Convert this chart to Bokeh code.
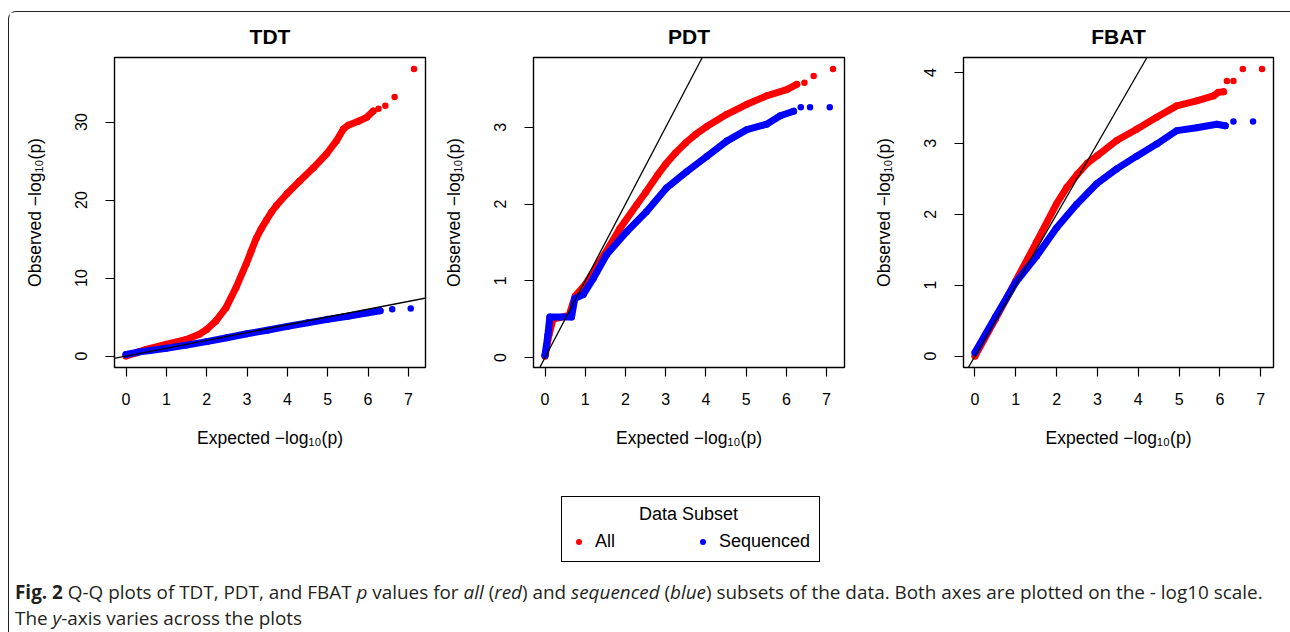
from bokeh.plotting import figure
from bokeh.models import Range1d, FixedTicker, Slope, Legend, LegendItem, Div, Label
from bokeh.layouts import row, column
from bokeh.embed import file_html
from bokeh.resources import INLINE

# ---------------- data ----------------
X_TICKS = [0, 1, 2, 3, 4, 5, 6, 7]

TITLES = ["TDT", "PDT", "FBAT"]
Y_TICKS_TDT = [0, 10, 20, 30]
Y_TICKS_PDT = [0, 1, 2, 3]
Y_TICKS_FBAT = [0, 1, 2, 3, 4]

# TDT - All (red): dense body and sparse tail
tdt_all_x = [0.0, 0.25, 0.5, 0.99, 1.48, 1.82, 2.0, 2.23, 2.48, 2.73, 2.98, 3.1, 3.23, 3.35,
             3.48, 3.6, 3.73, 3.99, 4.3, 4.64, 4.97, 5.22, 5.39, 5.51, 5.76, 5.97, 6.13]
tdt_all_y = [0.0, 0.4, 0.85, 1.5, 2.1, 2.8, 3.4, 4.5, 6.2, 8.8, 11.8, 13.4, 15.1, 16.3,
             17.4, 18.4, 19.3, 20.8, 22.4, 24.1, 25.9, 27.6, 29.1, 29.6, 30.1, 30.6, 31.4]
tdt_all_tail_x = [6.26, 6.43, 6.66, 7.14]
tdt_all_tail_y = [31.7, 32.1, 33.2, 36.8]
# TDT - Sequenced (blue)
tdt_seq_x = [0.0, 0.3, 0.6, 1.0, 1.5, 2.0, 2.5, 3.0, 3.5, 4.0, 4.5, 5.0, 5.5, 6.0, 6.3]
tdt_seq_y = [0.2, 0.5, 0.7, 1.0, 1.4, 1.85, 2.35, 2.85, 3.3, 3.8, 4.25, 4.7, 5.1, 5.55, 5.8]
tdt_seq_tail_x = [6.6, 7.06]
tdt_seq_tail_y = [6.0, 6.1]

# PDT - All (red)
pdt_all_x = [0.0, 0.1, 0.2, 0.6, 0.75, 1.0, 1.3, 1.6, 1.86, 2.28, 2.5, 2.8, 3.0, 3.25, 3.5,
             3.75, 4.02, 4.52, 5.02, 5.51, 6.01, 6.26]
pdt_all_y = [0.02, 0.3, 0.5, 0.55, 0.8, 0.95, 1.2, 1.45, 1.68, 1.99, 2.15, 2.38, 2.52, 2.67,
             2.80, 2.91, 3.01, 3.17, 3.30, 3.41, 3.49, 3.56]
pdt_all_tail_x = [6.45, 6.68, 7.16]
pdt_all_tail_y = [3.58, 3.67, 3.76]
# PDT - Sequenced (blue)
pdt_seq_x = [0.0, 0.07, 0.12, 0.66, 0.74, 0.95, 1.2, 1.53, 2.03, 2.52, 3.02, 3.52, 4.02,
             4.52, 5.02, 5.51, 5.85, 6.18]
pdt_seq_y = [0.03, 0.29, 0.53, 0.53, 0.77, 0.82, 1.03, 1.34, 1.64, 1.90, 2.21, 2.42, 2.62,
             2.82, 2.97, 3.04, 3.15, 3.21]
pdt_seq_tail_x = [6.36, 6.59, 7.08]
pdt_seq_tail_y = [3.26, 3.26, 3.26]

# FBAT - All (red)
fbat_all_x = [0.0, 0.5, 1.0, 1.5, 2.0, 2.25, 2.5, 2.75, 3.0, 3.47, 3.96, 4.45, 4.94, 5.43,
              5.84, 5.96, 6.09]
fbat_all_y = [0.0, 0.52, 1.06, 1.6, 2.15, 2.38, 2.56, 2.72, 2.83, 3.04, 3.20, 3.37, 3.53,
              3.60, 3.67, 3.72, 3.73]
fbat_all_tail_x = [6.17, 6.33, 6.56, 7.03]
fbat_all_tail_y = [3.88, 3.88, 4.05, 4.05]
# FBAT - Sequenced (blue)
fbat_seq_x = [0.0, 0.5, 1.0, 1.51, 2.0, 2.49, 2.98, 3.47, 3.96, 4.45, 4.94, 5.43, 5.92, 6.13]
fbat_seq_y = [0.05, 0.55, 1.04, 1.41, 1.81, 2.14, 2.43, 2.64, 2.82, 2.99, 3.18, 3.22, 3.27,
              3.25]
fbat_seq_tail_x = [6.33, 6.81]
fbat_seq_tail_y = [3.31, 3.31]

LEGEND_TITLE = "Data Subset"
LEGEND_LABELS = ["All", "Sequenced"]
X_LABEL = "Expected \u2212log\u2081\u2080(p)"
Y_LABEL = "Observed \u2212log\u2081\u2080(p)"

RED = "#FF0000"
BLUE = "#0000FF"
FONT = "Liberation Sans"


def r_range(vals):
    lo, hi = min(vals), max(vals)
    pad = 0.04 * (hi - lo)
    return Range1d(lo - pad, hi + pad)


def panel(title, red, red_tail, blue, blue_tail, yticks, width, left, right):
    xs = red[0] + red_tail[0] + blue[0] + blue_tail[0]
    ys = red[1] + red_tail[1] + blue[1] + blue_tail[1]
    p = figure(width=width, height=448, x_range=r_range(xs), y_range=r_range(ys),
               output_backend="svg", toolbar_location=None, title=title,
               min_border_left=left, min_border_right=right,
               min_border_top=45, min_border_bottom=93)
    p.xgrid.visible = False
    p.ygrid.visible = False
    p.outline_line_color = "black"
    p.outline_line_width = 1.4
    p.outline_line_alpha = 1.0
    p.title.align = "center"
    p.title.text_font = FONT
    p.title.text_font_size = "21px"
    p.title.text_font_style = "bold"
    p.title.text_color = "black"
    p.title.standoff = 19

    for (dx, dy), (tx, ty), c in ((red, red_tail, RED), (blue, blue_tail, BLUE)):
        p.line(dx, dy, line_color=c, line_width=7, line_cap="round", line_join="round")
        p.scatter(dx, dy, size=7, fill_color=c, line_color=None)
        p.scatter(tx, ty, size=6.5, fill_color=c, line_color=None)

    p.add_layout(Slope(gradient=1, y_intercept=0, line_color="black", line_width=1.3))

    p.xaxis.ticker = FixedTicker(ticks=X_TICKS)
    p.yaxis.ticker = FixedTicker(ticks=yticks)
    p.xaxis.axis_label = X_LABEL
    p.yaxis.axis_label = Y_LABEL
    for ax in (p.xaxis[0], p.yaxis[0]):
        ax.axis_line_color = None
        ax.major_tick_out = 9
        ax.major_tick_in = 0
        ax.minor_tick_out = 0
        ax.minor_tick_in = 0
        ax.major_tick_line_color = "black"
        ax.major_tick_line_width = 1.2
        ax.major_label_text_font = FONT
        ax.major_label_text_font_size = "16px"
        ax.major_label_text_color = "black"
        ax.axis_label_text_font = FONT
        ax.axis_label_text_font_size = "17.5px"
        ax.axis_label_text_font_style = "normal"
        ax.axis_label_text_color = "black"
    p.xaxis.major_label_standoff = 16
    p.yaxis.major_label_standoff = 18
    p.xaxis.axis_label_standoff = 20
    p.yaxis.axis_label_standoff = 28
    p.yaxis.major_label_orientation = "vertical"
    return p


p1 = panel(TITLES[0], (tdt_all_x, tdt_all_y), (tdt_all_tail_x, tdt_all_tail_y),
           (tdt_seq_x, tdt_seq_y), (tdt_seq_tail_x, tdt_seq_tail_y), Y_TICKS_TDT, 422, 105, 6)
p2 = panel(TITLES[1], (pdt_all_x, pdt_all_y), (pdt_all_tail_x, pdt_all_tail_y),
           (pdt_seq_x, pdt_seq_y), (pdt_seq_tail_x, pdt_seq_tail_y), Y_TICKS_PDT, 430, 102, 17)
p3 = panel(TITLES[2], (fbat_all_x, fbat_all_y), (fbat_all_tail_x, fbat_all_tail_y),
           (fbat_seq_x, fbat_seq_y), (fbat_seq_tail_x, fbat_seq_tail_y), Y_TICKS_FBAT, 425, 102, 13)

# legend figure (legend proxies carry NaN so they draw nothing in the plot area)
NAN = float("nan")
lf = figure(width=1277, height=112, output_backend="svg", toolbar_location=None,
            x_axis_location=None, y_axis_location=None, min_border=0,
            x_range=Range1d(0, 1), y_range=Range1d(0, 1))
lf.xgrid.visible = False
lf.ygrid.visible = False
lf.outline_line_color = None
r_all = lf.scatter(x=[NAN], y=[NAN], size=6, fill_color=RED, line_color=None)
r_seq = lf.scatter(x=[NAN], y=[NAN], size=6, fill_color=BLUE, line_color=None)
legend = Legend(items=[LegendItem(label=LEGEND_LABELS[0], renderers=[r_all]),
                       LegendItem(label=LEGEND_LABELS[1], renderers=[r_seq])],
                orientation="horizontal", title=" ", location=(552, 10),
                padding=9, spacing=12, glyph_width=15, glyph_height=15, label_standoff=9,
                label_width=88, label_height=20, margin=0, title_standoff=4,
                border_line_color="black", border_line_width=1.5, border_line_alpha=1.0,
                background_fill_alpha=0.0,
                label_text_font=FONT, label_text_font_size="18px", label_text_color="black",
                title_text_font=FONT, title_text_font_size="18px",
                title_text_font_style="normal", title_text_color="black")
lf.add_layout(legend)
lf.add_layout(Label(x=679, y=59, x_units="screen", y_units="screen", text=LEGEND_TITLE,
                    text_align="center", text_baseline="middle", text_font=FONT,
                    text_font_size="18px", text_color="black"))

caption_html = (
    '<div style="font-family:\'Open Sans\';font-size:18.9px;line-height:26px;color:#231f20;'
    'padding:2px 0 0 1px;white-space:nowrap;">'
    '<b>Fig. 2</b> Q-Q plots of TDT, PDT, and FBAT <i>p</i> values for <i>all</i> (<i>red</i>) '
    'and <i>sequenced</i> (<i>blue</i>) subsets of the data. Both axes are plotted on the - log10 scale.'
    '<br>The <i>y</i>-axis varies across the plots</div>'
)
caption = Div(text=caption_html, width=1277, height=56)

layout = column(row(p1, p2, p3, spacing=0), lf, caption, spacing=0,
                styles={"border": "1.5px solid #222", "border-bottom": "none",
                        "border-radius": "8px 8px 0 0", "margin-top": "11px",
                        "margin-left": "8px"})

open("out.html", "w").write(file_html(layout, INLINE))
